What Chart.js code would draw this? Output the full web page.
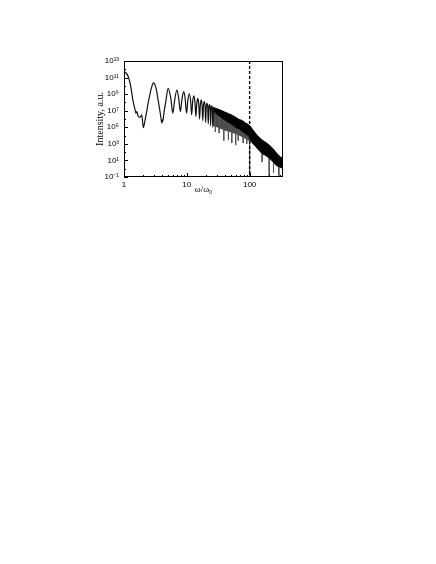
<!DOCTYPE html>
<html>
<head>
<meta charset="utf-8">
<style>
  html, body { margin: 0; padding: 0; background: #fff; }
  canvas { display: block; }
</style>
<script src="https://cdn.jsdelivr.net/npm/chart.js@4/dist/chart.umd.min.js"></script>
</head>
<body>
<canvas id="chart" width="436" height="564"></canvas>
<script>
// --- DONNEES (exposants log10 de l'intensite) ---

// harmoniques basses, oscillations visibles une par une
const waveX = [1.0, 1.08, 1.17, 1.28, 1.37, 1.5, 1.55, 1.6, 1.69, 1.8, 1.92, 2.03, 2.17, 2.45, 2.77, 2.95,
  3.24, 3.53, 3.85, 4.0, 4.08, 4.15, 4.3, 4.62, 5.05, 5.56, 6.0, 6.36, 6.95, 7.4, 7.9, 8.4, 8.95, 9.4,
  9.9, 10.4, 10.95, 11.5, 11.95, 12.4, 12.95, 13.5, 13.95, 14.4, 14.95, 15.5, 15.95, 16.4, 16.95, 17.5,
  17.95, 18.4, 18.95, 19.5, 19.95, 20.4, 20.95, 21.5, 21.95, 22.4, 22.95, 23.5, 23.95, 24.4, 24.95, 25.5,
  25.95, 26.4, 26.95];
const waveY = [11.7, 11.55, 11.1, 9.95, 8.5, 7.1, 6.7, 6.9, 6.3, 6.2, 6.5, 4.95, 5.9, 8.1, 9.9, 10.35,
  9.7, 8.1, 6.3, 5.5, 5.9, 5.7, 6.6, 8.1, 9.7, 8.5, 6.7, 8.1, 9.5, 8.6, 6.9, 8.5, 9.3, 8.5,
  6.7, 8.3, 9.05, 8.2, 6.5, 8.1, 8.8, 8.0, 6.3, 7.8, 8.5, 7.8, 6.0, 7.6, 8.3, 7.7,
  5.8, 7.5, 8.1, 7.6, 5.6, 7.4, 7.9, 7.5, 5.4, 7.3, 7.75, 7.4, 5.2, 7.2, 7.6, 7.3,
  5.0, 7.15, 7.45];

// zone dense : enveloppes haute, basse (noir) et trainees grises
const bandX   = [26, 30, 35, 40, 46, 53, 60, 68, 77, 87, 95, 100, 105, 115, 125, 135, 148, 160, 175, 190, 205, 220, 240, 260, 285, 310, 340];
const bandTop = [7.4, 7.25, 7.05, 6.85, 6.65, 6.45, 6.2, 5.95, 5.8, 5.5, 5.35, 5.2, 5.0, 4.6, 4.25, 3.95, 3.65, 3.45, 3.25, 3.05, 2.85, 2.65, 2.35, 2.0, 1.7, 1.4, 1.2];
const bandBot = [7.0, 6.6, 6.2, 5.9, 5.6, 5.3, 5.0, 4.8, 4.5, 4.2, 4.0, 3.8, 3.4, 3.0, 2.7, 2.4, 2.1, 1.8, 1.7, 1.5, 1.3, 1.1, 0.8, 0.5, 0.3, 0.2, 0.1];
const grayBot = [5.2, 5.0, 4.8, 4.6, 4.5, 4.3, 4.2, 4.0, 3.8, 3.6, 3.4, 3.3, 3.2, 2.9, 2.6, 2.3, 2.0, 1.7, 1.6, 1.4, 1.2, 1.0, 0.7, 0.4, 0.2, 0.1, 0.0];

// minima profonds (pics vers le bas)
const spikeX   = [28.5, 32.7, 38.8, 46, 52, 60, 66, 79, 90, 100, 158, 205, 240, 292];
const spikeTop = [6.7, 6.5, 6.2, 5.8, 5.6, 5.4, 5.2, 4.9, 4.6, 4.5, 2.5, 1.8, 1.2, 0.8];
const spikeLow = [4.45, 4.3, 3.4, 3.5, 3.1, 2.85, 3.4, 3.1, 3.0, -1, 0.8, -1, -0.5, -1];

// coupure
const cutX = 100;

// axes
const xTicks = [1, 10, 100];
const xTickLabels = ['1', '10', '100'];
const xMinor = [2, 3, 4, 5, 6, 7, 8, 9, 20, 30, 40, 50, 60, 70, 80, 90, 200, 300];
const yTickExp = [-1, 1, 3, 5, 7, 9, 11, 13];
const yTickLabels = ['10\u207B\u00B9', '10\u00B9', '10\u00B3', '10\u2075', '10\u2077', '10\u2079', '10\u00B9\u00B9', '10\u00B9\u00B3'];
const yMinorExp = [0, 2, 4, 6, 8, 10, 12];

// --- CONSTRUCTION DES SERIES ---
const toPts = (xs, es) => xs.map((x, i) => ({ x: x, y: Math.pow(10, es[i]) }));
const wavePts = toPts(waveX, waveY);
const topPts = toPts(bandX, bandTop);
const botPts = toPts(bandX, bandBot);
const grayPts = toPts(bandX, grayBot);
const spikePts = [];
spikeX.forEach((x, i) => {
  spikePts.push({ x: x, y: Math.pow(10, spikeTop[i]) });
  spikePts.push({ x: x, y: Math.pow(10, spikeLow[i]) });
  spikePts.push({ x: x, y: null });
});

// cadre + graduations vers l'interieur
const framePlugin = {
  id: 'frame',
  afterDraw(chart) {
    const { ctx, chartArea: a, scales } = chart;
    ctx.save();
    ctx.strokeStyle = '#000';
    ctx.lineWidth = 1;
    ctx.strokeRect(a.left + 0.5, a.top + 0.5, a.right - a.left - 1, a.bottom - a.top - 1);
    ctx.beginPath();
    xTicks.forEach(v => {
      const px = Math.round(scales.x.getPixelForValue(v)) + 0.5;
      ctx.moveTo(px, a.bottom); ctx.lineTo(px, a.bottom - 4);
    });
    xMinor.forEach(v => {
      const px = Math.round(scales.x.getPixelForValue(v)) + 0.5;
      ctx.moveTo(px, a.bottom); ctx.lineTo(px, a.bottom - 2);
    });
    yTickExp.forEach(e => {
      const py = Math.round(scales.y.getPixelForValue(Math.pow(10, e))) + 0.5;
      ctx.moveTo(a.left, py); ctx.lineTo(a.left + 4, py);
    });
    yMinorExp.forEach(e => {
      const py = Math.round(scales.y.getPixelForValue(Math.pow(10, e))) + 0.5;
      ctx.moveTo(a.left, py); ctx.lineTo(a.left + 2, py);
    });
    ctx.stroke();
    ctx.restore();
  }
};

const tickFont = { family: 'Liberation Sans', size: 8 };

new Chart(document.getElementById('chart'), {
  type: 'line',
  data: {
    datasets: [
      { data: [{ x: cutX, y: 1e13 }, { x: cutX, y: 1e-1 }], borderColor: '#000', borderWidth: 1.4, borderDash: [3, 2], pointRadius: 0, fill: false },
      { data: wavePts, borderColor: '#111', borderWidth: 1.2, pointRadius: 0, cubicInterpolationMode: 'monotone', fill: false },
      { data: topPts, borderColor: '#000', borderWidth: 1, pointRadius: 0, fill: '+1', backgroundColor: '#000' },
      { data: botPts, borderColor: '#000', borderWidth: 1, pointRadius: 0, fill: false },
      { data: spikePts, borderColor: '#555', borderWidth: 1, pointRadius: 0, spanGaps: false, fill: false },
      { data: grayPts, borderColor: 'rgba(0,0,0,0)', borderWidth: 0, pointRadius: 0, fill: 3, backgroundColor: '#4a4a4a' }
    ]
  },
  options: {
    responsive: false,
    animation: false,
    devicePixelRatio: 1,
    layout: { padding: { left: 90, top: 61, right: 153, bottom: 368 } },
    plugins: { legend: { display: false }, tooltip: { enabled: false } },
    scales: {
      x: {
        type: 'logarithmic', min: 1, max: 340,
        grid: { display: false, drawTicks: false },
        border: { display: false },
        ticks: {
          font: tickFont, color: '#000', padding: 3, autoSkip: false, maxRotation: 0,
          callback: (v) => { const i = xTicks.indexOf(v); return i >= 0 ? xTickLabels[i] : ''; }
        },
        afterBuildTicks: (s) => { s.ticks = xTicks.map(v => ({ value: v })); },
        afterFit: (s) => { s.height = 19; },
        title: { display: true, text: 'ω/ω₀', color: '#000', font: { family: 'Liberation Serif', size: 9 }, padding: { top: 0, bottom: 1 } }
      },
      y: {
        type: 'logarithmic', min: 1e-1, max: 1e13,
        grid: { display: false, drawTicks: false },
        border: { display: false },
        ticks: {
          font: tickFont, color: '#000', padding: 5, autoSkip: false,
          callback: (v, i) => yTickLabels[i]
        },
        afterBuildTicks: (s) => { s.ticks = yTickExp.map(e => ({ value: Math.pow(10, e) })); },
        afterFit: (s) => { s.width = 34; },
        title: { display: true, text: 'Intensity, a.u.', color: '#000', font: { family: 'Liberation Serif', size: 10 }, padding: { top: 4, bottom: 0 } }
      }
    }
  },
  plugins: [framePlugin]
});
</script>
</body>
</html>
